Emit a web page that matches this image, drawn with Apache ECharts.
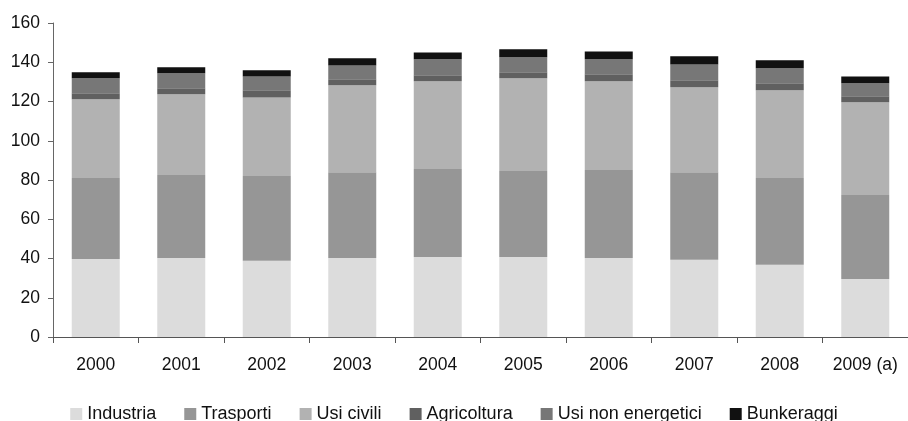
<!DOCTYPE html>
<html>
<head>
<meta charset="utf-8">
<script src="https://cdn.jsdelivr.net/npm/echarts@6/dist/echarts.min.js"></script>
<style>
  html, body { margin: 0; padding: 0; background: #fff; }
  #chart { width: 908px; height: 421px; }
</style>
</head>
<body>
<div id="chart"></div>
<script>
var years = ['2000', '2001', '2002', '2003', '2004', '2005', '2006', '2007', '2008', '2009 (a)'];

var industria = [39.8, 40.3, 38.8, 40.3, 40.8, 40.8, 40.3, 39.3, 36.8, 29.6];
var trasporti = [41.2, 42.2, 43.2, 43.7, 44.8, 43.8, 44.8, 44.7, 44.2, 42.7];
var usiCivili = [40.1, 41.2, 40.1, 44.3, 44.7, 47.2, 45.2, 43.3, 44.7, 47.3];
var agricoltura = [3.1, 3.0, 3.6, 3.0, 3.1, 3.1, 3.6, 3.5, 3.6, 3.1];
var usiNonEnergetici = [7.6, 7.7, 7.1, 7.1, 8.1, 7.6, 7.6, 8.1, 7.6, 6.6];
var bunkeraggi = [3.1, 3.0, 3.1, 3.6, 3.5, 4.1, 4.0, 4.1, 4.1, 3.5];

var chart = echarts.init(document.getElementById('chart'), null, { renderer: 'canvas' });

var font = 'Arial, "Liberation Sans", sans-serif';

function serie(name, data, color) {
  return {
    name: name,
    type: 'bar',
    stack: 'tot',
    barWidth: 48,
    data: data,
    itemStyle: { color: color },
    emphasis: { disabled: true }
  };
}

var option = {
  backgroundColor: '#fff',
  animation: false,
  textStyle: { fontFamily: font },
  grid: { left: 53, right: -8, top: 23, bottom: 84 },
  legend: {
    top: 400,
    left: 'center',
    itemWidth: 12,
    itemHeight: 12,
    itemGap: 28,
    icon: 'rect',
    textStyle: { fontSize: 18, color: '#111', fontFamily: font },
    data: ['Industria', 'Trasporti', 'Usi civili', 'Agricoltura', 'Usi non energetici', 'Bunkeraggi']
  },
  xAxis: {
    type: 'category',
    data: years,
    axisLine: { lineStyle: { color: '#555', width: 1 } },
    axisTick: { show: true, length: 6, lineStyle: { color: '#555' } },
    axisLabel: { fontSize: 17.5, color: '#111', margin: 19, interval: 0 }
  },
  yAxis: {
    type: 'value',
    min: 0,
    max: 160,
    interval: 20,
    axisLine: { show: true, lineStyle: { color: '#666', width: 1 } },
    axisTick: { show: true, length: 5, lineStyle: { color: '#666' } },
    axisLabel: { fontSize: 17.5, color: '#111', margin: 13 },
    splitLine: { show: false }
  },
  series: [
    serie('Industria', industria, '#dcdcdc'),
    serie('Trasporti', trasporti, '#969696'),
    serie('Usi civili', usiCivili, '#b2b2b2'),
    serie('Agricoltura', agricoltura, '#606060'),
    serie('Usi non energetici', usiNonEnergetici, '#777777'),
    serie('Bunkeraggi', bunkeraggi, '#111111')
  ]
};

chart.setOption(option);
</script>
</body>
</html>
